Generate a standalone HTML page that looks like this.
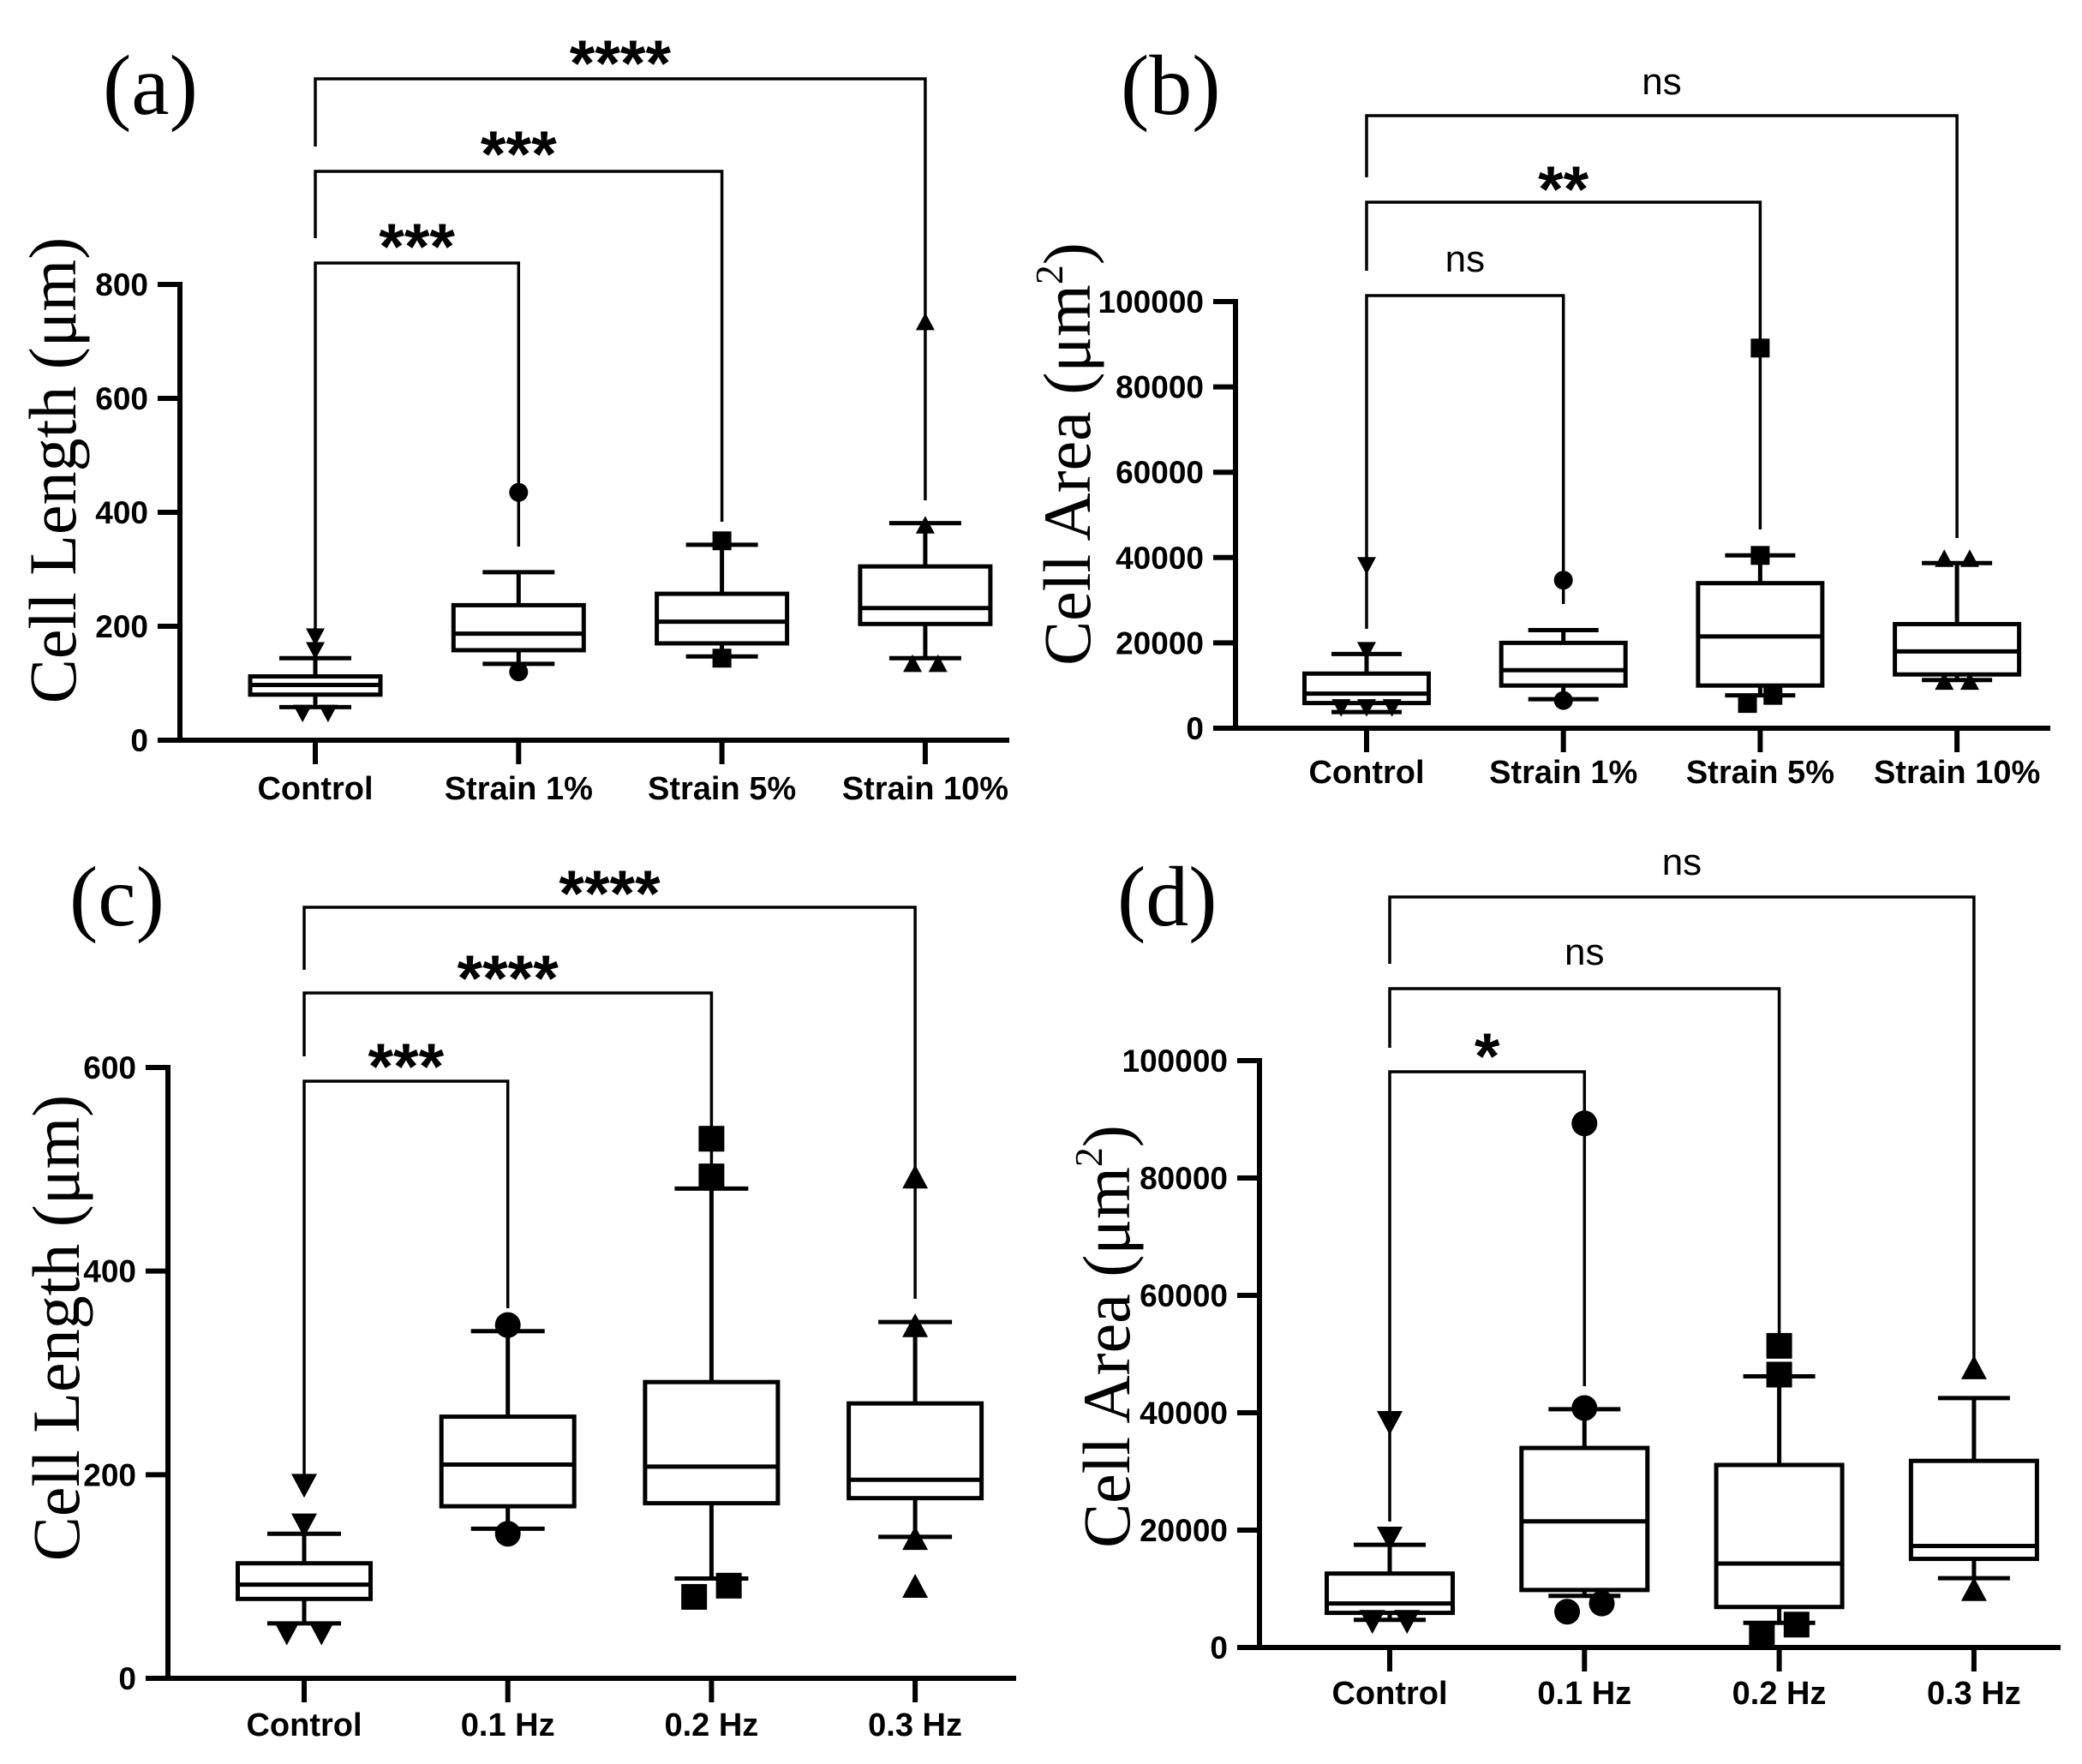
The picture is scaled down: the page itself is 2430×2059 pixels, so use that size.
<!DOCTYPE html>
<html><head><meta charset="utf-8"><style>
html,body{margin:0;padding:0;background:#fff}
svg{display:block}
</style></head><body>
<svg id="fig" xmlns="http://www.w3.org/2000/svg" width="2430" height="2059" viewBox="0 0 2430 2059">
<rect width="2430" height="2059" fill="#fff"/>
</svg>
<script>
// ---- Panel (a) Cell Length vs strain ----
const aCats = ["Control","Strain 1%","Strain 5%","Strain 10%"];
const aQ1 = [80,158,170,204];
const aMed = [97,187,208,232];
const aQ3 = [112,237,257,305];
const aLo = [58,134,147,144];
const aHi = [144,295,343,381];
const aOut = [[48,48,158,182],[435,120],[350,144],[377,134,134,734]];
const aTicks = [0,200,400,600,800];
const aSig = ["***","***","****"];
// ---- Panel (b) Cell Area vs strain ----
const bCats = ["Control","Strain 1%","Strain 5%","Strain 10%"];
const bQ1 = [5900,10000,10000,12600];
const bMed = [8100,13600,21500,18000];
const bQ3 = [12800,20000,34000,24400];
const bLo = [3800,6800,7700,11300];
const bHi = [17400,23000,40500,38700];
const bOut = [[4900,4900,4900,18300,38200],[34700,6500],[89100,40500,5800,7700],[39700,39700,10900,10900]];
const bTicks = [0,20000,40000,60000,80000,100000];
const bSig = ["ns","**","ns"];
// ---- Panel (c) Cell Length vs frequency ----
const cCats = ["Control","0.1 Hz","0.2 Hz","0.3 Hz"];
const cQ1 = [78,169,172,177];
const cMed = [92,210,208,195];
const cQ3 = [113,257,291,270];
const cLo = [54,147,98,139];
const cHi = [142,341,481,350];
const cOut = [[45,45,151,190],[347,142],[530,493,80,91],[492,346,137,90]];
const cTicks = [0,200,400,600];
const cSig = ["***","****","****"];
// ---- Panel (d) Cell Area vs frequency ----
const dCats = ["Control","0.1 Hz","0.2 Hz","0.3 Hz"];
const dQ1 = [5900,9800,6900,15100];
const dMed = [7500,21500,14300,17300];
const dQ3 = [12600,34000,31100,31800];
const dLo = [4700,8800,4200,11800];
const dHi = [17500,40600,46200,42500];
const dOut = [[4500,4500,18700,38400],[89300,40800,6100,7500],[51400,46500,2000,3900],[47600,9800]];
const dTicks = [0,20000,40000,60000,80000,100000];
const dSig = ["*","ns","ns"];

const NS="http://www.w3.org/2000/svg";
const svg=document.getElementById('fig');
function mk(tag,attrs,parent){const e=document.createElementNS(NS,tag);for(const k in attrs)e.setAttribute(k,attrs[k]);(parent||svg).appendChild(e);return e;}

const layouts=[
 {id:'a',letter:'(a)',lx:120,ly:133,ax:210,axEnd:1178,y0:864,yT:332,vT:800,cx0:368,step:237.3,boxW:152,capW:84,ms:22,lblBase:933,
  ytitle:'Cell Length (μm)',sup:false,ytX:88,ytY:549,
  br:[{bar:307,left:743,right:638,ly:271},{bar:200,left:278,right:609,ly:163},{bar:92,left:171,right:584,ly:57}]},
 {id:'b',letter:'(b)',lx:1308,ly:133,ax:1442,axEnd:2393,y0:850,yT:352,vT:100000,cx0:1595,step:229.7,boxW:145,capW:82,ms:22,lblBase:914,
  ytitle:'Cell Area (μm',sup:true,ytX:1272,ytY:530,
  br:[{bar:345,left:734,right:705,ly:306},{bar:236,left:316,right:618,ly:204},{bar:135,left:207,right:628,ly:99}]},
 {id:'c',letter:'(c)',lx:81,ly:1080,ax:196,axEnd:1186,y0:1959,yT:1246,vT:600,cx0:355,step:237.7,boxW:155,capW:86,ms:30,lblBase:2026,
  ytitle:'Cell Length (μm)',sup:false,ytX:92,ytY:1550,
  br:[{bar:1262,left:1732,right:1527,ly:1228},{bar:1159,left:1233,right:1388,ly:1125},{bar:1059,left:1132,right:1516,ly:1026}]},
 {id:'d',letter:'(d)',lx:1304,ly:1080,ax:1470,axEnd:2405,y0:1923,yT:1238,vT:100000,cx0:1622,step:227.3,boxW:147,capW:84,ms:30,lblBase:1989,
  ytitle:'Cell Area (μm',sup:true,ytX:1318,ytY:1560,
  br:[{bar:1251,left:1776,right:1618,ly:1216},{bar:1154,left:1223,right:1560,ly:1115},{bar:1047,left:1125,right:1587,ly:1010}]}
];
const datas=[
 {cats:aCats,q1:aQ1,med:aMed,q3:aQ3,lo:aLo,hi:aHi,out:aOut,ticks:aTicks,sig:aSig},
 {cats:bCats,q1:bQ1,med:bMed,q3:bQ3,lo:bLo,hi:bHi,out:bOut,ticks:bTicks,sig:bSig},
 {cats:cCats,q1:cQ1,med:cMed,q3:cQ3,lo:cLo,hi:cHi,out:cOut,ticks:cTicks,sig:cSig},
 {cats:dCats,q1:dQ1,med:dMed,q3:dQ3,lo:dLo,hi:dHi,out:dOut,ticks:dTicks,sig:dSig}
];
const shapes=['down','circle','square','up'];

function marker(g,shape,x,y,s){
  let e;
  if(shape==='circle'){e=mk('circle',{cx:x,cy:y,r:s/2,fill:'#000'},g);}
  else if(shape==='square'){e=mk('rect',{x:x-s/2,y:y-s/2,width:s,height:s,fill:'#000'},g);}
  else if(shape==='up'){e=mk('polygon',{points:`${x-s/2},${y+s*0.43} ${x+s/2},${y+s*0.43} ${x},${y-s*0.5}`,fill:'#000'},g);}
  else {e=mk('polygon',{points:`${x-s/2},${y-s*0.43} ${x+s/2},${y-s*0.43} ${x},${y+s*0.5}`,fill:'#000'},g);}
  return e;
}

layouts.forEach((L,pi)=>{
  const D=datas[pi];
  const g=mk('g',{});
  
  
  const yS=v=>L.y0-(v/L.vT)*(L.y0-L.yT);
  const xS=i=>L.cx0+i*L.step;
  const lt=mk('text',{x:L.lx,y:L.ly,'font-family':'Liberation Serif, serif','font-size':100},g);
  lt.textContent=L.letter;
  
  
  const yt=mk('text',{transform:`translate(${L.ytX},${L.ytY}) rotate(-90)`,'text-anchor':'middle','font-family':'Liberation Serif, serif','font-size':78},g);
  
  
  if(L.sup){
    yt.appendChild(document.createTextNode(L.ytitle));
    const s=mk('tspan',{'font-size':46,dy:-32},yt);s.textContent='2';
    const c=mk('tspan',{dy:32},yt);c.textContent=')';
  } else yt.textContent=L.ytitle;
  const ya=mk('line',{x1:L.ax,y1:L.yT-3,x2:L.ax,y2:L.y0,stroke:'#000','stroke-width':6},g);
  
  
  const xa=mk('line',{x1:L.ax-25,y1:L.y0,x2:L.axEnd,y2:L.y0,stroke:'#000','stroke-width':6},g);
  
  
  D.ticks.forEach(t=>{
    const y=yS(t);
    mk('line',{x1:L.ax-26,y1:y,x2:L.ax,y2:y,stroke:'#000','stroke-width':6},g);
    const tl=mk('text',{x:L.ax-37,y:y+13,'text-anchor':'end','font-family':'Liberation Sans, sans-serif','font-weight':'bold','font-size':37},g);
    tl.textContent=String(t);
    
    
  });
  D.cats.forEach((c,i)=>{
    const x=xS(i);
    mk('line',{x1:x,y1:L.y0,x2:x,y2:L.y0+28,stroke:'#000','stroke-width':6},g);
    const cl=mk('text',{x:x,y:L.lblBase,'text-anchor':'middle','font-family':'Liberation Sans, sans-serif','font-weight':'bold','font-size':38},g);
    cl.textContent=c;
    
    
  });
  L.br.forEach((b,k)=>{
    const x1=xS(0),x2=xS(k+1);
    const p=mk('path',{d:`M${x1},${b.left} V${b.bar} H${x2} V${b.right}`,fill:'none',stroke:'#000','stroke-width':3.5},g);
    
    
    const lab=D.sig[k];
    const star=lab.indexOf('*')>=0;
    const st=mk('text',{x:(x1+x2)/2,y:star?b.ly+43:b.ly+11,'text-anchor':'middle','font-family':'Liberation Sans, sans-serif','font-weight':star?'bold':'normal','font-size':star?76:44},g);
    st.textContent=lab;
    
    
  });
  D.cats.forEach((c,i)=>{
    const x=xS(i),hw=L.boxW/2,cw=L.capW/2;
    const bg=mk('g',{stroke:'#000','stroke-width':5,fill:'none'},g);
    
    
    mk('line',{x1:x,y1:yS(D.hi[i]),x2:x,y2:yS(D.q3[i])},bg);
    mk('line',{x1:x,y1:yS(D.q1[i]),x2:x,y2:yS(D.lo[i])},bg);
    mk('line',{x1:x-cw,y1:yS(D.hi[i]),x2:x+cw,y2:yS(D.hi[i])},bg);
    mk('line',{x1:x-cw,y1:yS(D.lo[i]),x2:x+cw,y2:yS(D.lo[i])},bg);
    mk('rect',{x:x-hw,y:yS(D.q3[i]),width:L.boxW,height:yS(D.q1[i])-yS(D.q3[i]),fill:'#fff'},bg);
    mk('line',{x1:x-hw,y1:yS(D.med[i]),x2:x+hw,y2:yS(D.med[i])},bg);
    const vals=D.out[i];
    const used=vals.map(()=>false);
    vals.forEach((v,j)=>{
      if(used[j])return;
      const grp=[j];
      for(let k=j+1;k<vals.length;k++){if(!used[k]&&Math.abs(yS(vals[k])-yS(v))<14)grp.push(k);}
      grp.forEach((k,n)=>{used[k]=true;
        const off=grp.length===1?0:(n-(grp.length-1)/2)*L.ms*1.35;
        const m=marker(g,shapes[i],x+off,yS(vals[k]),L.ms);
        
        
      });
    });
  });
});
</script>
</body></html>
